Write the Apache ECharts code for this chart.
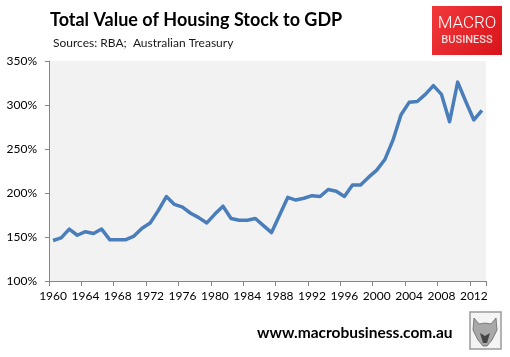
<!DOCTYPE html>
<html>
<head>
<meta charset="utf-8">
<script src="https://cdn.jsdelivr.net/npm/echarts@6/dist/echarts.min.js"></script>
<style>
html,body{margin:0;padding:0;background:#fff;}
#chart{width:510px;height:357px;}
</style>
</head>
<body>
<div id="chart"></div>
<script>
var years = [];
for (var y = 1960; y <= 2013; y++) years.push(String(y));

var housingToGdp = [
  146, 149, 159, 152, 156, 154, 159, 147, 147, 147,
  151, 160, 166, 180, 196, 187, 184, 177, 172, 166,
  176, 185, 171, 169, 169, 171, 163, 155, 175, 195,
  192, 194, 197, 196, 204, 202, 196, 209, 209, 218,
  226, 238, 260, 289, 303, 304, 312, 322, 312, 281,
  326, 304, 283, 294
];

var yTicks = [100, 150, 200, 250, 300, 350];

var chart = echarts.init(document.getElementById('chart'));
var fontMain = 'Lato, "Open Sans", "DejaVu Sans", sans-serif';

chart.setOption({
  animation: false,
  backgroundColor: '#ffffff',
  title: [
    {
      text: 'Total Value of Housing Stock to GDP',
      left: 45, top: 6,
      textStyle: { fontFamily: fontMain, fontWeight: 'bold', fontSize: 18, color: '#000' }
    },
    {
      text: 'Sources: RBA;  Australian Treasury',
      left: 48, top: 32,
      textStyle: { fontFamily: fontMain, fontWeight: 'normal', fontSize: 12, color: '#1a1a1a' }
    }
  ],
  grid: { left: 49, right: 24, top: 61, bottom: 76, show: true, backgroundColor: '#F2F2F2', borderWidth: 0 },
  xAxis: {
    type: 'category',
    data: years,
    boundaryGap: true,
    axisLine: { show: true, lineStyle: { color: '#868686', width: 1 } },
    axisTick: { show: true, interval: 3, length: 5, lineStyle: { color: '#868686' } },
    axisLabel: { interval: 3, color: '#000', fontFamily: fontMain, fontSize: 12, margin: 9 },
    splitLine: { show: false }
  },
  yAxis: {
    type: 'value',
    min: yTicks[0],
    max: yTicks[yTicks.length - 1],
    interval: 50,
    axisLine: { show: true, lineStyle: { color: '#868686', width: 1 } },
    axisTick: { show: true, length: 4, lineStyle: { color: '#868686' } },
    axisLabel: { formatter: '{value}%', color: '#000', fontFamily: fontMain, fontSize: 12, margin: 12 },
    splitLine: { show: false }
  },
  series: [{
    type: 'line',
    data: housingToGdp,
    symbol: 'none',
    lineStyle: { color: '#4A7EBB', width: 3.5, join: 'round' },
    itemStyle: { color: '#4A7EBB' }
  }],
  graphic: [
    {
      type: 'rect',
      shape: { x: 432, y: 6, width: 70, height: 49 },
      style: {
        fill: new echarts.graphic.LinearGradient(0, 0, 1, 1, [
          { offset: 0, color: '#F2383A' },
          { offset: 1, color: '#D8141B' }
        ])
      }
    },
    {
      type: 'text', x: 467, y: 24,
      style: { text: 'MACRO', fill: '#ffffff', font: '300 17px Roboto, sans-serif', align: 'center', verticalAlign: 'middle' }
    },
    {
      type: 'text', x: 467, y: 40,
      style: { text: 'BUSINESS', fill: '#F8D8D8', font: '500 11px Roboto, sans-serif', align: 'center', verticalAlign: 'middle' }
    },
    {
      type: 'text', x: 257, y: 333,
      style: { text: 'www.macrobusiness.com.au', fill: '#000', font: 'bold 15.5px Lato, "Open Sans", sans-serif', align: 'left', verticalAlign: 'middle' }
    },
    {
      type: 'rect',
      shape: { x: 470, y: 312, width: 31, height: 37 },
      style: { fill: '#f4f4f4', stroke: '#9a9a9a', lineWidth: 1.5 }
    },
    {
      type: 'polygon',
      shape: { points: [[474,318],[479,324],[485,323],[491,324],[496,318],[497,330],[492,340],[487,346],[483,346],[478,340],[473,330]] },
      style: { fill: '#a8a8a8', stroke: '#666', lineWidth: 0.8 }
    },
    {
      type: 'polygon',
      shape: { points: [[480,333],[485,336],[490,333],[487,343],[483,343]] },
      style: { fill: '#444' }
    }
  ]
});
</script>
</body>
</html>
